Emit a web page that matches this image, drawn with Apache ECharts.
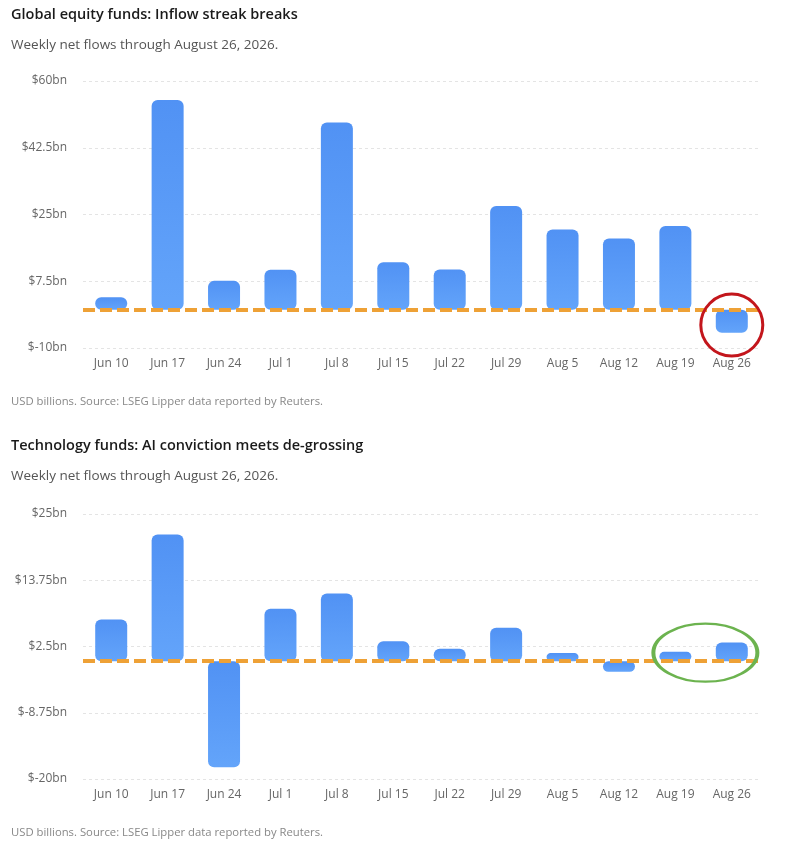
<!DOCTYPE html>
<html>
<head>
    <meta charset="UTF-8">
    <script src="https://cdn.jsdelivr.net/npm/echarts@6/dist/echarts.min.js"></script>
    <title>Fund flows</title>
    <style>
        html, body { margin: 0; padding: 0; background: #fff; }
        #main { width: 790px; height: 853px; }
    </style>
</head>
<body>
<div id="main"></div>
<script>
    // weeks shown on both charts
    var weeks = ['Jun 10', 'Jun 17', 'Jun 24', 'Jul 1', 'Jul 8', 'Jul 15', 'Jul 22', 'Jul 29', 'Aug 5', 'Aug 12', 'Aug 19', 'Aug 26'];

    // weekly net flows, USD billions
    var equityFlows = [3.3, 55.0, 7.6, 10.5, 49.1, 12.5, 10.6, 27.2, 21.1, 18.7, 22.0, -6.0];
    var techFlows = [7.1, 21.5, -18.0, 8.9, 11.5, 3.4, 2.1, 5.7, 1.4, -1.8, 1.6, 3.2];

    // y axis ranges [min, max, interval]
    var equityAxis = [-10, 60, 17.5];
    var techAxis = [-20, 25, 11.25];

    var font = '"Segoe UI", "Open Sans", "Noto Sans", sans-serif';

    var barColor = new echarts.graphic.LinearGradient(0, 0, 0, 1, [
        {offset: 0, color: '#5192f4'},
        {offset: 1, color: '#63a4fa'}
    ]);

    function money(v) {
        return '$' + v + 'bn';
    }

    function xAxisFor(idx) {
        return {
            type: 'category',
            gridIndex: idx,
            data: weeks,
            axisLine: {show: false},
            axisTick: {show: false},
            axisLabel: {color: '#666', fontSize: 12, fontFamily: font, margin: 10}
        };
    }

    function yAxisFor(idx, range) {
        return {
            type: 'value',
            gridIndex: idx,
            min: range[0],
            max: range[1],
            interval: range[2],
            axisLine: {show: false},
            axisTick: {show: false},
            axisLabel: {color: '#666', fontSize: 12, fontFamily: font, margin: 16, formatter: money},
            splitLine: {lineStyle: {color: '#e4e4e4', type: [3, 3], width: 1}}
        };
    }

    function zeroLine() {
        return {
            silent: true,
            symbol: 'none',
            label: {show: false},
            lineStyle: {color: '#eea136', width: 4, type: [12, 5]},
            data: [{yAxis: 0}]
        };
    }

    var titleStyle = {fontSize: 14.5, fontWeight: 600, color: '#1a1a1a', fontFamily: font};
    var subStyle = {fontSize: 13.5, fontWeight: 'normal', color: '#555', fontFamily: font};
    var noteStyle = {fontSize: 11.3, fontWeight: 'normal', color: '#888', fontFamily: font};

    var myChart = echarts.init(document.getElementById('main'), null, {renderer: 'canvas'});

    var option = {
        animation: false,
        backgroundColor: '#fff',
        title: [
            {text: 'Global equity funds: Inflow streak breaks', left: 6, top: 2, textStyle: titleStyle},
            {text: 'Weekly net flows through August 26, 2026.', left: 6, top: 33, textStyle: subStyle},
            {text: 'USD billions. Source: LSEG Lipper data reported by Reuters.', left: 6, top: 391, textStyle: noteStyle},
            {text: 'Technology funds: AI conviction meets de-grossing', left: 6, top: 433, textStyle: titleStyle},
            {text: 'Weekly net flows through August 26, 2026.', left: 6, top: 464, textStyle: subStyle},
            {text: 'USD billions. Source: LSEG Lipper data reported by Reuters.', left: 6, top: 822, textStyle: noteStyle}
        ],
        grid: [
            {left: 83, right: 30, top: 81, height: 267},
            {left: 83, right: 30, top: 514, height: 265}
        ],
        xAxis: [xAxisFor(0), xAxisFor(1)],
        yAxis: [yAxisFor(0, equityAxis), yAxisFor(1, techAxis)],
        series: [
            {
                name: 'Global equity',
                type: 'bar',
                xAxisIndex: 0,
                yAxisIndex: 0,
                barWidth: 32,
                data: equityFlows,
                itemStyle: {color: barColor, borderRadius: 6},
                markLine: zeroLine(),
                markPoint: {
                    silent: true,
                    symbol: 'circle',
                    symbolSize: 62,
                    label: {show: false},
                    itemStyle: {color: 'rgba(0,0,0,0)', borderColor: '#c3161c', borderWidth: 3},
                    data: [{coord: ['Aug 26', -4.0]}]
                }
            },
            {
                name: 'Technology',
                type: 'bar',
                xAxisIndex: 1,
                yAxisIndex: 1,
                barWidth: 32,
                data: techFlows,
                itemStyle: {color: barColor, borderRadius: 6},
                markLine: zeroLine(),
                markPoint: {
                    silent: true,
                    symbol: 'circle',
                    symbolSize: [104, 58],
                    symbolOffset: [30, 0],
                    label: {show: false},
                    itemStyle: {color: 'rgba(0,0,0,0)', borderColor: '#6cb34f', borderWidth: 3},
                    data: [{coord: ['Aug 19', 1.45]}]
                }
            }
        ]
    };
    myChart.setOption(option);
</script>
</body>
</html>
